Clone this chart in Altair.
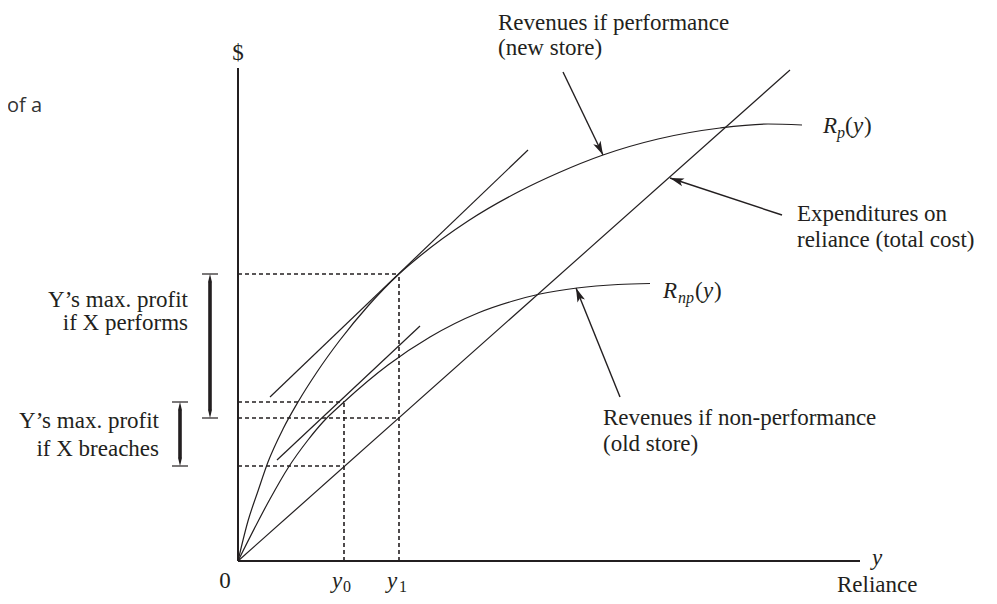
import math
import altair as alt
import pandas as pd

# ---------------- values ----------------
# Revenue curves (reliance on x, dollars on y)
rp_reliance = [0, 10, 20, 30, 45, 60, 79, 102, 130, 161, 182, 230, 282, 320, 365, 420, 482, 530, 564]
rp_revenue = [0, 40, 70, 99, 132, 159, 189, 221, 255, 287, 305, 340, 370, 388, 406, 422, 433, 437, 436]
rnp_reliance = [0, 32, 50, 70, 85, 106, 150, 192, 240, 275, 302, 339, 380, 412]
rnp_revenue = [0, 62, 93, 121, 139, 159, 196, 224, 248, 260, 267, 273, 276.5, 277.5]

# Expenditures on reliance (total cost) - straight line
cost_reliance = [0, 552]
cost_spend = [0, 491]

# Tangent lines at the optima
tan_p_reliance = [32, 290]
tan_p_value = [164, 411]
tan_np_reliance = [39, 182]
tan_np_value = [101, 235]

# Optimal reliance levels and the values there
y0, y1 = 106, 161
rp_at_y1, cost_at_y1 = 287, 143
rnp_at_y0, cost_at_y0 = 159, 95

# axis extents
axis_x_end = 622
axis_y_end = 493

# ---------------- styling ----------------
INK = "#231f20"
SERIF = "Liberation Serif, Times New Roman, serif"
FS = 23
SUB = 16

xs = alt.Scale(domain=[-230, 751], zero=False, nice=False)
ys = alt.Scale(domain=[-35, 553], zero=False, nice=False)


def X(f="x"):
    return alt.X(f"{f}:Q", scale=xs, axis=None)


def Y(f="y"):
    return alt.Y(f"{f}:Q", scale=ys, axis=None)


# curves
curve_df = pd.concat([
    pd.DataFrame({"x": rp_reliance, "y": rp_revenue, "s": "Rp"}),
    pd.DataFrame({"x": rnp_reliance, "y": rnp_revenue, "s": "Rnp"}),
])
curves = alt.Chart(curve_df).mark_line(
    interpolate="monotone", color=INK, strokeWidth=1.2
).encode(x=X(), y=Y(), detail="s:N")

# straight lines
lines_df = pd.DataFrame({
    "x": [cost_reliance[0], tan_p_reliance[0], tan_np_reliance[0]],
    "y": [cost_spend[0], tan_p_value[0], tan_np_value[0]],
    "x2": [cost_reliance[1], tan_p_reliance[1], tan_np_reliance[1]],
    "y2": [cost_spend[1], tan_p_value[1], tan_np_value[1]],
})
lines = alt.Chart(lines_df).mark_rule(color=INK, strokeWidth=1.2).encode(
    x=X(), y=Y(), x2="x2:Q", y2="y2:Q")

# axes
axes_df = pd.DataFrame({"x": [0, 0], "y": [0, 0], "x2": [axis_x_end, 0], "y2": [0, axis_y_end]})
axes = alt.Chart(axes_df).mark_rule(color=INK, strokeWidth=2).encode(
    x=X(), y=Y(), x2="x2:Q", y2="y2:Q")

# dashed guides
dash_df = pd.DataFrame({
    "x": [0, 0, 0, 0, y0, y1],
    "y": [rp_at_y1, rnp_at_y0, cost_at_y1, cost_at_y0, 0, 0],
    "x2": [y1, y0, y1, y0, y0, y1],
    "y2": [rp_at_y1, rnp_at_y0, cost_at_y1, cost_at_y0, rnp_at_y0, rp_at_y1],
})
dashes = alt.Chart(dash_df).mark_rule(
    color=INK, strokeWidth=1.6, strokeDash=[4, 3]
).encode(x=X(), y=Y(), x2="x2:Q", y2="y2:Q")

# profit brackets on the left (thick bar with pointed ends between caps)
bar_x_perf, bar_x_breach = -28, -58
TIP = 8
bars_df = pd.DataFrame({
    "x": [bar_x_perf, bar_x_breach],
    "y": [rp_at_y1 - TIP, rnp_at_y0 - TIP],
    "y2": [cost_at_y1 + TIP, cost_at_y0 + TIP],
})
bars = alt.Chart(bars_df).mark_rule(color=INK, strokeWidth=3.6).encode(
    x=X(), y=Y(), y2="y2:Q")
bar_tips_df = pd.DataFrame({
    "x": [bar_x_perf, bar_x_perf, bar_x_breach, bar_x_breach],
    "y": [rp_at_y1, cost_at_y1, rnp_at_y0, cost_at_y0],
    "angle": [0, 180, 0, 180],
})
bar_tips = alt.Chart(bar_tips_df).mark_point(
    shape="M0,0L0.5,2.05L-0.5,2.05Z", filled=True, color=INK, opacity=1,
    size=64, strokeWidth=0
).encode(x=X(), y=Y(), angle=alt.Angle("angle:Q", scale=None))
caps_df = pd.DataFrame({
    "x": [bar_x_perf - 8, bar_x_perf - 8, bar_x_breach - 8, bar_x_breach - 8],
    "x2": [bar_x_perf + 8, bar_x_perf + 8, bar_x_breach + 8, bar_x_breach + 8],
    "y": [rp_at_y1, cost_at_y1, rnp_at_y0, cost_at_y0],
})
caps = alt.Chart(caps_df).mark_rule(color=INK, strokeWidth=1.2).encode(
    x=X(), x2="x2:Q", y=Y())

# arrows
arrow_tail_x = [325, 544, 382]
arrow_tail_y = [489, 346, 164]
arrow_tip_x = [365, 432, 338]
arrow_tip_y = [406, 383, 273]
arr_df = pd.DataFrame({"x": arrow_tail_x, "y": arrow_tail_y,
                       "x2": arrow_tip_x, "y2": arrow_tip_y})
arr_df["angle"] = [
    math.degrees(math.atan2(tx - sx, ty - sy)) % 360
    for sx, sy, tx, ty in zip(arrow_tail_x, arrow_tail_y, arrow_tip_x, arrow_tip_y)
]
arrow_lines = alt.Chart(arr_df).mark_rule(color=INK, strokeWidth=1.4).encode(
    x=X(), y=Y(), x2="x2:Q", y2="y2:Q")
HEAD = "M0,0L0.55,1.9L0,1.45L-0.55,1.9Z"
arrow_heads = alt.Chart(arr_df).mark_point(
    shape=HEAD, filled=True, color=INK, opacity=1, size=217, strokeWidth=0
).encode(x=X("x2"), y=Y("y2"), angle=alt.Angle("angle:Q", scale=None))

# ---------------- text ----------------
def txt(df, align="left", italic=False, size=FS, font=SERIF, color=INK):
    return alt.Chart(df).mark_text(
        align=align, baseline="alphabetic", font=font, fontSize=size,
        fontStyle="italic" if italic else "normal", color=color
    ).encode(x=X(), y=Y(), text="t:N")


left_df = pd.DataFrame({
    "t": ["Revenues if performance", "(new store)",
          "Expenditures on", "reliance (total cost)",
          "Revenues if non-performance", "(old store)",
          "Reliance", "(", ")", "(", ")"],
    "x": [260, 260, 559, 559, 365, 365, 599, 607, 626, 457, 476],
    "y": [531, 506, 340, 314, 136, 110, -31, 428, 428, 263, 263],
})
right_df = pd.DataFrame({
    "t": ["Y\u2019s max. profit", "if X performs", "Y\u2019s max. profit", "if X breaches"],
    "x": [-50, -50, -79, -79],
    "y": [254, 231, 133, 105],
})
center_df = pd.DataFrame({"t": ["$", "0"], "x": [0, -13], "y": [501, -27]})
ital_df = pd.DataFrame({
    "t": ["R", "y", "R", "y", "y", "y", "y"],
    "x": [585, 615, 425, 465, 634, 94, 149],
    "y": [428, 428, 263, 263, -4, -27, -27],
})
ital_sub_df = pd.DataFrame({"t": ["p", "np"], "x": [599, 440], "y": [423, 258]})
sub_df = pd.DataFrame({"t": ["0", "1"], "x": [105, 161], "y": [-31, -31]})
cut_df = pd.DataFrame({"t": ["of a"], "x": [-196], "y": [449]})

texts = [
    txt(left_df),
    txt(right_df, align="right"),
    txt(center_df, align="center"),
    txt(ital_df, italic=True),
    txt(ital_sub_df, italic=True, size=SUB),
    txt(sub_df, size=SUB),
    txt(cut_df, align="right", font="Open Sans", size=20, color="#333333"),
]

chart = alt.layer(
    dashes, axes, curves, lines, bars, bar_tips, caps, arrow_lines, arrow_heads, *texts
).properties(
    width=981, height=588, padding=0, autosize="none", background="white"
).configure_view(stroke=None)

chart.save("out.html", embed_options={"renderer": "svg", "actions": False})
